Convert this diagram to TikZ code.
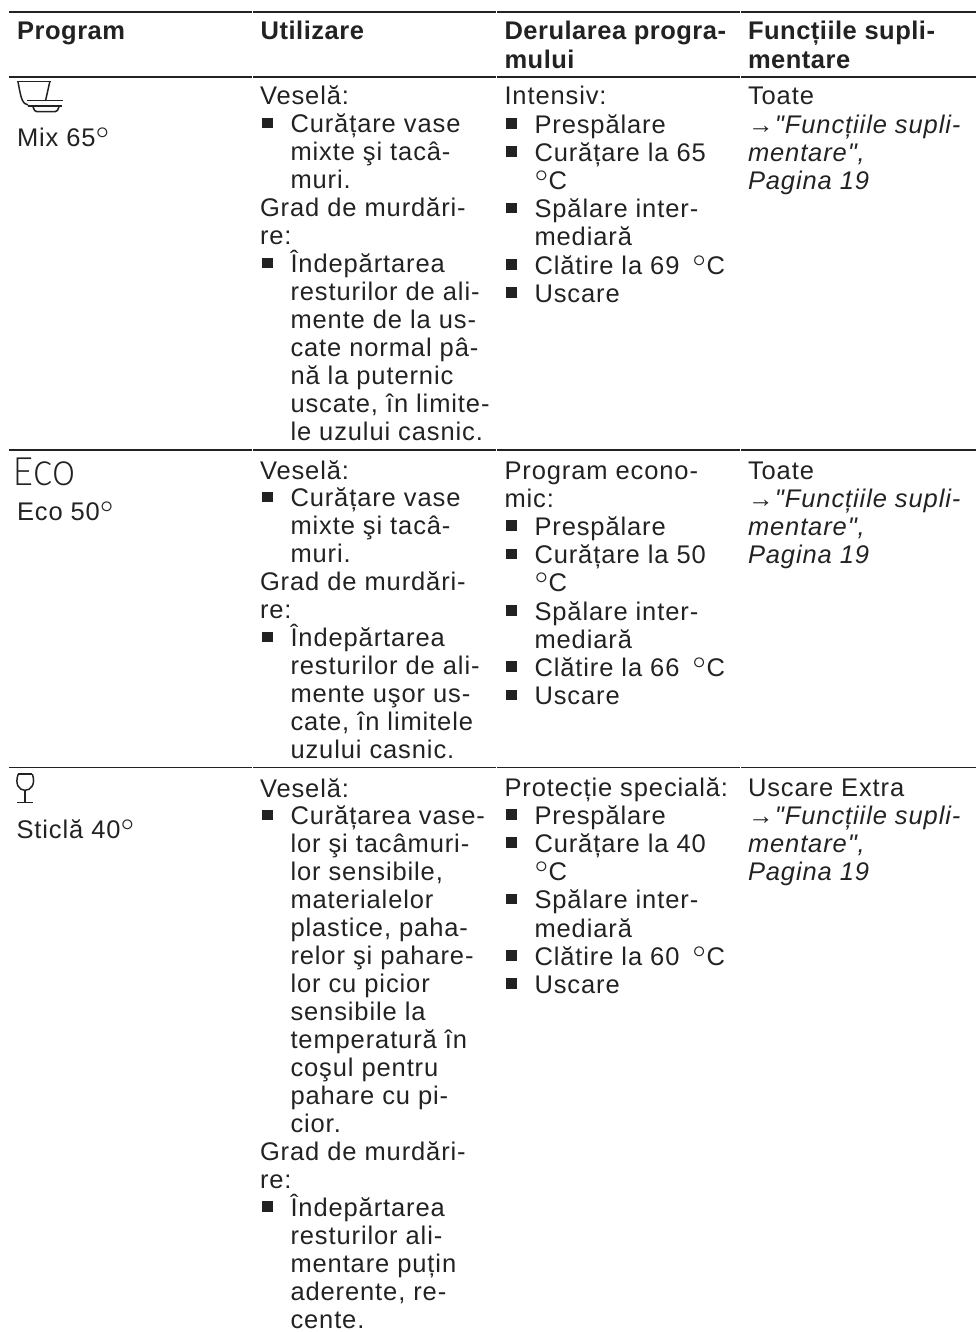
\documentclass[tikz,border=0pt]{standalone}
\usepackage{fontspec}
\setmainfont[LetterSpace=3.5,Ligatures=TeXOff]{Liberation Sans}
\newfontfamily\headfont[LetterSpace=2,Ligatures=TeXOff]{Liberation Sans Bold}
\newfontfamily\bigfont{Lato Light}
\definecolor{ink}{HTML}{222222}
\newcounter{tn}
\newcommand{\Lh}{27.95}
\newcommand{\dg}{\smash{\raisebox{-5pt}{\bigfont\fontsize{33}{33}\selectfont °}}\kern.5pt}
\newcommand{\arr}{\makebox[27pt][l]{→}}
\tikzset{
  x=1pt,y=-1pt,
  tl/.style={anchor=base west,inner sep=0pt,outer sep=0pt,text=ink,font=\fontsize{25.5}{28}\selectfont},
  hd/.style={tl,font=\headfont\fontsize{25.5}{28}\selectfont},
  rl/.style={draw=ink,line width=1.8pt},
  ic/.style={draw=ink,line width=1.5pt},
  ict/.style={draw=ink,line width=2.4pt},
  bul/.style={fill=ink,draw=none}
}
\newcommand{\Ln}[4]{\stepcounter{tn}\node[tl] (t\thetn) at (#1,#2+#3*\Lh) {#4};}
\newcommand{\Bu}[4]{\fill[bul] (#1+2.2,#2+#3*\Lh-15) rectangle ++(10.5,10.5);\stepcounter{tn}\node[tl] (t\thetn) at (#1+30.5,#2+#3*\Lh) {#4};}
\newcommand{\Cn}[4]{\stepcounter{tn}\node[tl] (t\thetn) at (#1+30.5,#2+#3*\Lh) {#4};}
\newcommand{\Rule}[2]{%
  \coordinate (a#1) at (9,#2);\coordinate (b#1) at (252,#2);\draw[rl] (a#1) -- (b#1);
  \coordinate (c#1) at (253,#2);\coordinate (d#1) at (496,#2);\draw[rl] (c#1) -- (d#1);
  \coordinate (e#1) at (497,#2);\coordinate (f#1) at (740,#2);\draw[rl] (e#1) -- (f#1);
  \coordinate (g#1) at (741,#2);\coordinate (h#1) at (976,#2);\draw[rl] (g#1) -- (h#1);}
\begin{document}
\begin{tikzpicture}
\useasboundingbox (0,0) rectangle (976,1332);
\Rule{A}{11.7}\Rule{B}{76.7}\Rule{C}{450}\Rule{D}{767.5}
% header
\node[hd] (h1) at (17.2,40) {Program};
\node[hd] (h2) at (260.7,40) {Utilizare};
\node[hd] (h3) at (504.5,40) {Derularea progra-};
\node[hd] (h3b) at (504.5,68.3) {mului};
\node[hd] (h4) at (748,40) {Funcțiile supli-};
\node[hd] (h4b) at (748,68.3) {mentare};
% column 1
\draw[ic] (16.7,81.7) -- (50.7,81.7);
\draw[ic] (18,81.7) .. controls (19.5,90) and (21,98) .. (22.5,100.5) .. controls (23.5,103) and (25,104) .. (28,105);
\draw[ic] (49.8,81.7) -- (45.7,100);
\draw[ic] (26.7,100.3) -- (62.7,100.3);
\draw[ict] (28,106) -- (62,106);
\draw[ic] (33,107) .. controls (34,110) and (35,111.7) .. (37,111.7) -- (55,111.7) .. controls (57,111.7) and (58,110) .. (59,107);
\node[tl] (mix) at (17,146.7) {Mix 65\dg};
\node[anchor=base west,inner sep=0pt,text=ink,xscale=.88,font=\bigfont\fontsize{39}{39}\selectfont] (ecoi) at (13.5,485) {E{\fontsize{47}{47}\selectfont co}};
\node[tl] (eco) at (17,520) {Eco 50\dg};
\draw[ic] (18.3,774) -- (32.3,774);
\draw[ic] (18.3,774) .. controls (14.5,784) and (19,790.3) .. (25,790.3) .. controls (31,790.3) and (36,784) .. (32.3,774);
\draw[ic] (25,790.3) -- (25,802.7);
\draw[ic] (17.3,802.7) -- (32.5,802.7);
\node[tl] (sti) at (16.5,838) {Sticlă 40\dg};
% row 1, col 2
\Ln{260}{105}{0}{Veselă:}
\Bu{260}{105}{1}{Curățare vase}
\Cn{260}{105}{2}{mixte şi tacâ-}
\Cn{260}{105}{3}{muri.}
\Ln{260}{105}{4}{Grad de murdări-}
\Ln{260}{105}{5}{re:}
\Bu{260}{105}{6}{Îndepărtarea}
\Cn{260}{105}{7}{resturilor de ali-}
\Cn{260}{105}{8}{mente de la us-}
\Cn{260}{105}{9}{cate normal pâ-}
\Cn{260}{105}{10}{nă la puternic}
\Cn{260}{105}{11}{uscate, în limite-}
\Cn{260}{105}{12}{le uzului casnic.}
% row 2, col 2
\Ln{260}{479}{0}{Veselă:}
\Bu{260}{479}{1}{Curățare vase}
\Cn{260}{479}{2}{mixte şi tacâ-}
\Cn{260}{479}{3}{muri.}
\Ln{260}{479}{4}{Grad de murdări-}
\Ln{260}{479}{5}{re:}
\Bu{260}{479}{6}{Îndepărtarea}
\Cn{260}{479}{7}{resturilor de ali-}
\Cn{260}{479}{8}{mente uşor us-}
\Cn{260}{479}{9}{cate, în limitele}
\Cn{260}{479}{10}{uzului casnic.}
% row 3, col 2
\Ln{260}{797}{0}{Veselă:}
\Bu{260}{797}{1}{Curățarea vase-}
\Cn{260}{797}{2}{lor şi tacâmuri-}
\Cn{260}{797}{3}{lor sensibile,}
\Cn{260}{797}{4}{materialelor}
\Cn{260}{797}{5}{plastice, paha-}
\Cn{260}{797}{6}{relor şi pahare-}
\Cn{260}{797}{7}{lor cu picior}
\Cn{260}{797}{8}{sensibile la}
\Cn{260}{797}{9}{temperatură în}
\Cn{260}{797}{10}{coşul pentru}
\Cn{260}{797}{11}{pahare cu pi-}
\Cn{260}{797}{12}{cior.}
\Ln{260}{797}{13}{Grad de murdări-}
\Ln{260}{797}{14}{re:}
\Bu{260}{797}{15}{Îndepărtarea}
\Cn{260}{797}{16}{resturilor ali-}
\Cn{260}{797}{17}{mentare puțin}
\Cn{260}{797}{18}{aderente, re-}
\Cn{260}{797}{19}{cente.}
% columns 3 and 4 use a slightly wider line pitch
\renewcommand{\Lh}{28.2}
% row 1, col 3
\Ln{504.5}{105}{0}{Intensiv:}
\Bu{504}{105}{1}{Prespălare}
\Bu{504}{105}{2}{Curățare la 65}
\Cn{504}{105}{3}{\dg C}
\Bu{504}{105}{4}{Spălare inter-}
\Cn{504}{105}{5}{mediară}
\Bu{504}{105}{6}{Clătire la 69 \kern5pt\dg C}
\Bu{504}{105}{7}{Uscare}
% row 1, col 4
\Ln{748}{105}{0}{Toate}
\Ln{748}{105}{1}{\itshape\arr{}"Funcțiile supli-}
\Ln{748}{105}{2}{\itshape mentare",}
\Ln{748}{105}{3}{\itshape Pagina 19}
% row 2, col 3
\Ln{504.5}{479}{0}{Program econo-}
\Ln{504.5}{479}{1}{mic:}
\Bu{504}{479}{2}{Prespălare}
\Bu{504}{479}{3}{Curățare la 50}
\Cn{504}{479}{4}{\dg C}
\Bu{504}{479}{5}{Spălare inter-}
\Cn{504}{479}{6}{mediară}
\Bu{504}{479}{7}{Clătire la 66 \kern5pt\dg C}
\Bu{504}{479}{8}{Uscare}
% row 2, col 4
\Ln{748}{479}{0}{Toate}
\Ln{748}{479}{1}{\itshape\arr{}"Funcțiile supli-}
\Ln{748}{479}{2}{\itshape mentare",}
\Ln{748}{479}{3}{\itshape Pagina 19}
% row 3, col 3
\Ln{504.5}{796}{0}{Protecție specială:}
\Bu{504}{796}{1}{Prespălare}
\Bu{504}{796}{2}{Curățare la 40}
\Cn{504}{796}{3}{\dg C}
\Bu{504}{796}{4}{Spălare inter-}
\Cn{504}{796}{5}{mediară}
\Bu{504}{796}{6}{Clătire la 60 \kern5pt\dg C}
\Bu{504}{796}{7}{Uscare}
% row 3, col 4
\Ln{748}{796}{0}{Uscare Extra}
\Ln{748}{796}{1}{\itshape\arr{}"Funcțiile supli-}
\Ln{748}{796}{2}{\itshape mentare",}
\Ln{748}{796}{3}{\itshape Pagina 19}
\end{tikzpicture}
\end{document}
